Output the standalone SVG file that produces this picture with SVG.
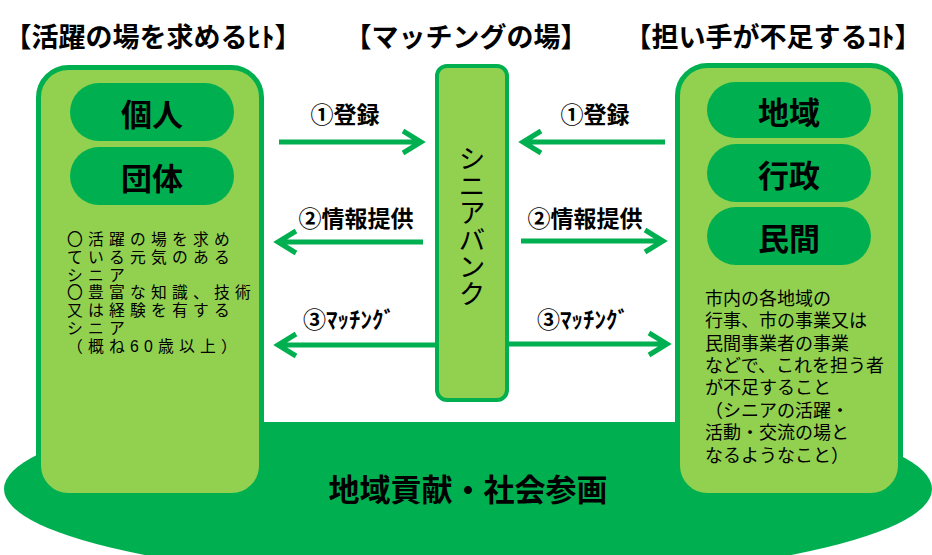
<svg xmlns="http://www.w3.org/2000/svg" width="932" height="555" viewBox="0 0 932 555">
<style>
.dg{fill:#00B050}
.panel{fill:#92D050;stroke:#00B050;stroke-width:5}
.cbox{fill:#92D050;stroke:#00B050;stroke-width:4}
.pill{fill:#00B050}
.t{font-family:"Noto Sans CJK JP","Noto Sans CJK SC",sans-serif;fill:#000}
.b{font-family:"Liberation Sans","Noto Sans CJK JP","Noto Sans CJK SC",sans-serif;fill:#000}
.hd{font-size:27px;font-weight:bold;text-anchor:middle}
.pt{font-size:31px;font-weight:bold;text-anchor:middle;dominant-baseline:central}
.lb{font-size:23px;font-weight:bold;text-anchor:middle}
.bodyL{font-size:15.8px;letter-spacing:5.2px}
.bodyR{font-size:18px}
.arr{fill:none;stroke:#00B050;stroke-width:5;stroke-linecap:butt}
</style>
<defs>
<clipPath id="clipBase"><rect x="0" y="422" width="932" height="133"/></clipPath>
</defs>
<rect width="932" height="555" fill="#fff"/>
<g id="base">
<ellipse class="dg" cx="468" cy="489" rx="464" ry="92" clip-path="url(#clipBase)"/>
<text class="t" x="468" y="501" font-size="31" font-weight="bold" text-anchor="middle">地域貢献・社会参画</text>
</g>
<g id="headers">
<text class="t hd" x="153" y="47">【活躍の場を求めるﾋﾄ】</text>
<text class="t hd" x="466" y="47">【マッチングの場】</text>
<text class="t hd" x="773" y="47">【担い手が不足するｺﾄ】</text>
</g>
<g id="left">
<rect class="panel" x="38.5" y="67.5" width="223" height="428" rx="30"/>
<g id="kojin"><rect class="pill" x="70" y="83" width="164" height="58" rx="29"/><text class="t pt" x="152" y="112">個人</text></g>
<g id="dantai"><rect class="pill" x="70" y="147" width="164" height="58" rx="29"/><text class="t pt" x="152" y="176">団体</text></g>
<text class="b bodyL">
<tspan x="67" y="245">〇活躍の場を求め</tspan>
<tspan x="67" y="262.8">ている元気のある</tspan>
<tspan x="67" y="280.6">シニア</tspan>
<tspan x="67" y="298.4">〇豊富な知識、技術</tspan>
<tspan x="67" y="316.2">又は経験を有する</tspan>
<tspan x="67" y="334">シニア</tspan>
<tspan x="67" y="351.8">（概ね60歳以上）</tspan>
</text>
</g>
<g id="center">
<rect class="cbox" x="437" y="66" width="70" height="334" rx="10"/>
<text class="t" x="472" y="226" font-size="27" style="writing-mode:vertical-rl" text-anchor="middle">シニアバンク</text>
</g>
<g id="right">
<rect class="panel" x="677.5" y="65.5" width="223" height="430" rx="30"/>
<g id="chiiki"><rect class="pill" x="707" y="82" width="164" height="56" rx="28"/><text class="t pt" x="789" y="110">地域</text></g>
<g id="gyosei"><rect class="pill" x="707" y="144" width="164" height="58" rx="29"/><text class="t pt" x="789" y="173">行政</text></g>
<g id="minkan"><rect class="pill" x="707" y="207" width="164" height="58" rx="29"/><text class="t pt" x="789" y="236">民間</text></g>
<text class="b bodyR">
<tspan x="705" y="305">市内の各地域の</tspan>
<tspan x="705" y="327">行事、市の事業又は</tspan>
<tspan x="705" y="350">民間事業者の事業</tspan>
<tspan x="705" y="372">などで、これを担う者</tspan>
<tspan x="705" y="394">が不足すること</tspan>
<tspan x="705" y="417">（シニアの活躍・</tspan>
<tspan x="705" y="439">活動・交流の場と</tspan>
<tspan x="705" y="462">なるようなこと）</tspan>
</text>
</g>
<g id="connectors">
<path class="arr" d="M279,142 H420 M403,131 L421,142 L403,153"/>
<path class="arr" d="M423,242 H280 M296,231 L278,242 L296,253"/>
<path class="arr" d="M435,345 H280 M296,334 L278,345 L296,356"/>
<path class="arr" d="M665,142 H525 M541,131 L523,142 L541,153"/>
<path class="arr" d="M521,241 H662 M645,230 L663,241 L645,252"/>
<path class="arr" d="M509,344 H666 M649,333 L667,344 L649,355"/>
</g>
<g id="labels">
<text class="t lb" x="345" y="123">①登録</text>
<text class="t lb" x="356" y="227">②情報提供</text>
<text class="t lb" x="349" y="328">③ﾏｯﾁﾝｸﾞ</text>
<text class="t lb" x="595" y="123">①登録</text>
<text class="t lb" x="585" y="227">②情報提供</text>
<text class="t lb" x="583" y="328">③ﾏｯﾁﾝｸﾞ</text>
</g>
</svg>
